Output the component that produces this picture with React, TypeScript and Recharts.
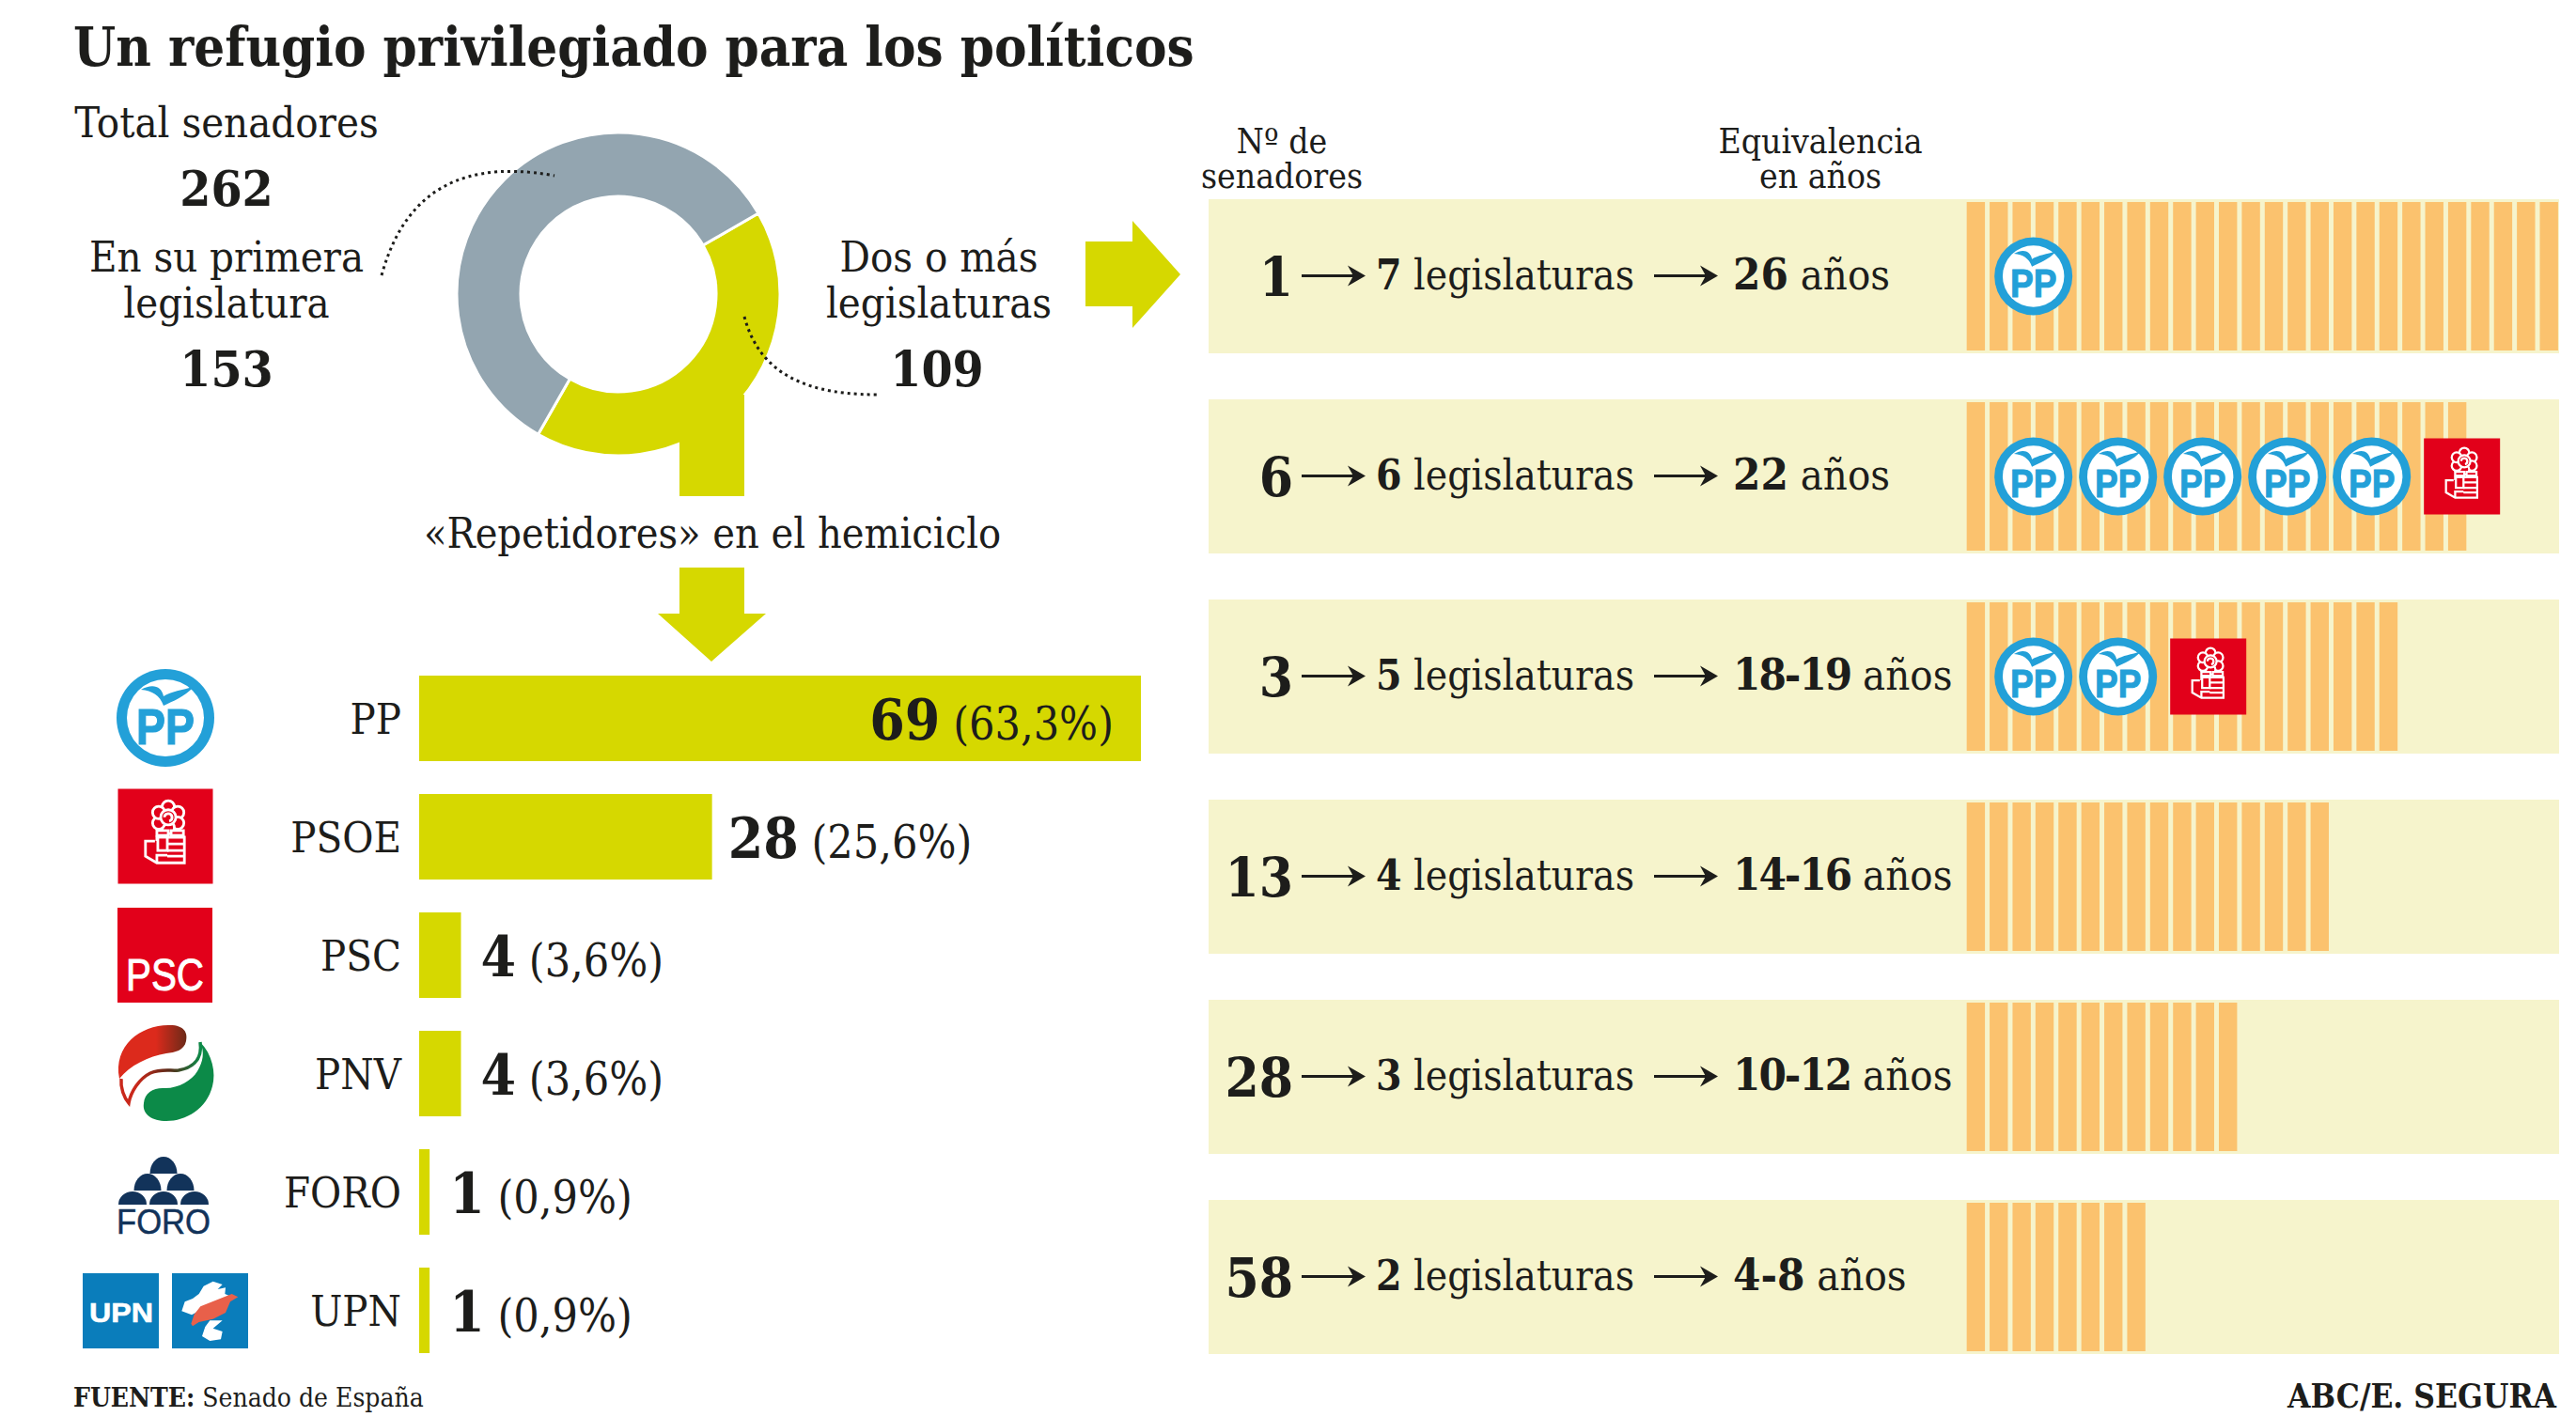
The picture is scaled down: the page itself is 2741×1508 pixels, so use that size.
import React from 'react';
import { BarChart, Bar, XAxis, YAxis, LabelList, PieChart, Pie, Cell } from 'recharts';

// donut
const donutNames = ['Dos o más legislaturas', 'En su primera legislatura'];
const donutValues = [109, 153];
const donutColors = ['#d6d800', '#93a5b0'];

// parties
const partyNames = ['PP', 'PSOE', 'PSC', 'PNV', 'FORO', 'UPN'];
const partySeats = [69, 28, 4, 4, 1, 1];
const partyPcts = ['63,3', '25,6', '3,6', '3,6', '0,9', '0,9'];

// legislatures table
const rowSenators = [1, 6, 3, 13, 28, 58];
const rowLegislatures = [7, 6, 5, 4, 3, 2];
const rowYearLabels = ['26', '22', '18-19', '14-16', '10-12', '4-8'];
const rowYears = [26, 22, 19, 16, 12, 8];
const rowLogos = [
  ['PP'],
  ['PP', 'PP', 'PP', 'PP', 'PP', 'PSOE'],
  ['PP', 'PP', 'PSOE'],
  [],
  [],
  [],
];

const partyData = partyNames.map((name, i) => ({ name, seats: partySeats[i], pct: partyPcts[i] }));
const rowData = rowSenators.map((senators, i) => ({
  senators,
  legislatures: rowLegislatures[i],
  label: rowYearLabels[i],
  years: rowYears[i],
  logos: rowLogos[i],
}));
const donutData = donutNames.map((name, i) => ({ name, value: donutValues[i] }));

const SERIF = '"DejaVu Serif Condensed", "DejaVu Serif", serif';
const SANS = '"Liberation Sans", Arial, sans-serif';
const INK = '#1d1d1b';
const YELLOW = '#d6d800';
const BLUE = '#23a0d8';
const RED = '#e2001a';
const NAVY = '#12335a';

function PPLogo({ cx, cy, r }: any) {
  return (
    <g transform={`translate(${cx},${cy}) scale(${r / 52})`}>
      <circle r={52} fill={BLUE} />
      <circle r={41} fill="#fff" />
      <path d="M-26,-30 C-14,-37 -4,-34 -2,-23 C6,-28 18,-30 30,-33 C20,-22 8,-18 -2,-13 C-6,-24 -14,-29 -26,-30Z" fill={BLUE} />
      <text x={0} y={28} textAnchor="middle" fontFamily={SANS} fontWeight="bold" fontSize={54} textLength={62} lengthAdjust="spacingAndGlyphs" stroke={BLUE} strokeWidth={1.2} fill={BLUE}>PP</text>
    </g>
  );
}

function PSOELogo({ cx, cy, size }: any) {
  const lobes = [[3, -31], [13, -25], [13, -14], [3, -9], [-7, -14], [-7, -25]];
  return (
    <g transform={`translate(${cx},${cy}) scale(${size / 100})`}>
      <rect x={-50} y={-50} width={100} height={100} fill={RED} />
      <g fill={RED} stroke="#fff" strokeWidth={2.8}>
        {lobes.map(([x, y], i) => (
          <circle key={i} cx={x} cy={y} r={6.5} />
        ))}
        <circle cx={3} cy={-20} r={8} />
        <path d="M-1,-20 A4,4 0 1 1 4,-16" fill="none" />
        <rect x={-9} y={-6} width={12} height={5} />
        <rect x={6} y={-6} width={13} height={5} />
        <path d="M-11,5 H-21 V21 L-9,28 H20 V1 H-9 V5" />
        <rect x={-8} y={1} width={10} height={14} />
        <path d="M2,8 H20 M2,15 H20 M2,21 H20 M-9,28 V20 H2" fill="none" />
      </g>
    </g>
  );
}

function PNVLogo({ cy }: any) {
  return (
    <g transform={`translate(176,${cy})`}>
      <defs>
        <linearGradient id="pnvRed" x1="0" y1="0" x2="1" y2="0">
          <stop offset="0.55" stopColor="#dc2a1c" />
          <stop offset="1" stopColor="#6b2a18" />
        </linearGradient>
        <linearGradient id="pnvGreen" x1="0" y1="0" x2="0.55" y2="0.55">
          <stop offset="0" stopColor="#3a2a18" />
          <stop offset="0.5" stopColor="#0c8a48" />
        </linearGradient>
        <linearGradient id="pnvLine" x1="0" y1="0" x2="1" y2="0">
          <stop offset="0.2" stopColor="#c9281b" />
          <stop offset="0.6" stopColor="#5a2a18" />
          <stop offset="1" stopColor="#0c8a48" />
        </linearGradient>
      </defs>
      <path d="M-49,6 C-56,-30 -25,-52 5,-51 C20,-51 24,-43 22,-34 C20,-24 10,-22 1,-21 C-18,-18 -38,-8 -49,6Z" fill="url(#pnvRed)" />
      <path d="M37,-33 C50,-20 54,0 50,14 C44,38 22,51 1,51 C-14,51 -25,44 -23,32 C-22,20 -12,15 0,16 C14,16 28,8 34,-2 C40,-12 42,-22 37,-33Z" fill="url(#pnvGreen)" />
      <path d="M-47,6 C-48,16 -44,26 -39,32 C-37,20 -28,6 -16,0 C-4,-5 6,-2 14,-3 C26,-5 40,-12 37,-33" fill="none" stroke="url(#pnvLine)" strokeWidth={3.5} />
    </g>
  );
}

function UPNLogo({ cy }: any) {
  return (
    <g>
      <rect x={88} y={cy - 39} width={81} height={80} fill="#0a7dbb" />
      <rect x={183} y={cy - 39} width={81} height={80} fill="#0a7dbb" />
      <text x={129} y={cy + 13} textAnchor="middle" fontFamily={SANS} fontWeight="bold" fontSize={30} textLength={68} lengthAdjust="spacingAndGlyphs" stroke="#fff" strokeWidth={0.6} fill="#fff">UPN</text>
      <g transform={`translate(80,${cy - 52}) scale(${1 / 3})`}>
        <path d="M440,65 L470,75 L455,90 L480,85 L478,105 L490,110 L372,172 L340,160 L350,130 L375,120 L395,105 L410,80Z" fill="#fff" />
        <path d="M430,190 L470,190 L440,215 L470,225 L465,250 L430,255 L405,240 L415,210Z" fill="#fff" />
        <path d="M370,200 L380,170 L400,145 L500,105 L520,115 L495,130 L480,165 L440,185 L395,195 L375,208Z" fill="#e8604a" />
      </g>
    </g>
  );
}

function PartyLogo({ name, cy }: any) {
  if (name === 'PP') return <PPLogo cx={176} cy={cy} r={52} />;
  if (name === 'PSOE') return <PSOELogo cx={176} cy={cy} size={101} />;
  if (name === 'PSC') {
    return (
      <g>
        <rect x={125} y={cy - 50} width={101} height={101} fill={RED} />
        <text x={175.5} y={cy + 38} textAnchor="middle" fontFamily={SANS} fontSize={49} textLength={83} lengthAdjust="spacingAndGlyphs" stroke="#fff" strokeWidth={1} fill="#fff">PSC</text>
      </g>
    );
  }
  if (name === 'PNV') return <PNVLogo cy={cy} />;
  if (name === 'FORO') {
    const domes = [
      [174, -19, 14.5, 18], [157, -1, 14.5, 18], [192, -1, 14.5, 18],
      [141, 14, 15, 14], [174, 14, 15, 14], [207, 14, 15, 14],
    ];
    return (
      <g fill={NAVY}>
        {domes.map(([x, dy, rx, ry], i) => (
          <path key={i} d={`M${x - rx},${cy + dy} A${rx},${ry} 0 0 1 ${x + rx},${cy + dy}Z`} />
        ))}
        <text x={174} y={cy + 45} textAnchor="middle" fontFamily={SANS} fontSize={36} textLength={100} lengthAdjust="spacingAndGlyphs" stroke={NAVY} strokeWidth={0.5}>FORO</text>
      </g>
    );
  }
  return <UPNLogo cy={cy} />;
}

function PartyTick({ y, payload }: any) {
  return (
    <g>
      <PartyLogo name={payload.value} cy={y} />
      <text x={427} y={y + 17} textAnchor="end" fontFamily={SERIF} fontSize={45} fill={INK}>{payload.value}</text>
    </g>
  );
}

function SeatsLabel({ x, y, width, height, index }: any) {
  const row = partyData[index];
  const inside = row.seats > 60;
  const cy = y + height / 2;
  return (
    <text
      x={inside ? x + width - 29 : x + width + (row.seats < 10 ? 21 : 17)}
      y={cy + 22}
      textAnchor={inside ? 'end' : 'start'}
      fontFamily={SERIF}
      fill={INK}
    >
      <tspan fontWeight="bold" fontSize={60}>{row.seats}</tspan>
      <tspan fontSize={48}>{` (${row.pct}%)`}</tspan>
    </text>
  );
}

function Arrow({ x1, x2, y }: any) {
  return (
    <g>
      <line x1={x1} x2={x2 - 8} y1={y} y2={y} stroke={INK} strokeWidth={3} />
      <path d={`M${x2},${y} L${x2 - 19},${y - 11} L${x2 - 13},${y} L${x2 - 19},${y + 11}Z`} fill={INK} />
    </g>
  );
}

function RowTick({ y, index }: any) {
  const row = rowData[index];
  return (
    <g fontFamily={SERIF} fill={INK}>
      <text x={90} y={y + 21} textAnchor="end" fontWeight="bold" fontSize={58}>{row.senators}</text>
      <Arrow x1={99} x2={167} y={y} />
      <text x={178} y={y + 14} fontSize={44}>
        <tspan fontWeight="bold">{row.legislatures}</tspan>
        <tspan>{' legislaturas'}</tspan>
      </text>
      <Arrow x1={474} x2={542} y={y} />
      <text x={558} y={y + 14} fontSize={45}>
        <tspan fontWeight="bold" fontSize={47} letterSpacing={row.label.length > 3 ? -2 : 0}>{row.label}</tspan>
        <tspan>{' años'}</tspan>
      </text>
    </g>
  );
}

function StripesShape({ x, y, width, height, payload }: any) {
  const n = payload.years;
  const step = width / n;
  const cy = y + height / 2;
  const stripes = [];
  for (let i = 0; i < n; i++) {
    stripes.push(<rect key={i} x={x + i * step} y={y + 3} width={step - 5} height={height - 6} fill="#fbc26e" />);
  }
  return (
    <g>
      {stripes}
      {payload.logos.map((logo: string, i: number) =>
        logo === 'PP' ? (
          <PPLogo key={i} cx={x + 71 + i * 90} cy={cy} r={41.5} />
        ) : (
          <PSOELogo key={i} cx={x + 77 + i * 90} cy={cy} size={81} />
        )
      )}
    </g>
  );
}

function Overlay() {
  return (
    <svg width={2741} height={1508} style={{ position: 'absolute', left: 0, top: 0, pointerEvents: 'none' }}>
      <g fill={YELLOW}>
        <rect x={723} y={420} width={69} height={108} />
        <path d="M723,604 H792 V653 H815 L757,704 L700,653 H723Z" />
        <path d="M1155,257 H1205 V235 L1256,292 L1205,349 V326 H1155Z" />
      </g>
      <g fill="none" stroke={INK} strokeWidth={3} strokeDasharray="3 4">
        <path d="M406,293 C425,225 470,165 590,187" />
        <path d="M792,337 C805,385 840,420 933,420" />
      </g>
      <g fontFamily={SERIF} fill={INK} textAnchor="middle">
        <text x={78} y={70} textAnchor="start" fontWeight="bold" fontSize={57.6}>Un refugio privilegiado para los políticos</text>

        <text x={241} y={146} fontSize={45}>Total senadores</text>
        <text x={241} y={219} fontWeight="bold" fontSize={53}>262</text>
        <text x={241} y={289} fontSize={45}>En su primera</text>
        <text x={241} y={338} fontSize={45}>legislatura</text>
        <text x={241} y={411} fontWeight="bold" fontSize={53}>153</text>

        <text x={999} y={289} fontSize={45}>Dos o más</text>
        <text x={999} y={338} fontSize={45}>legislaturas</text>
        <text x={997} y={411} fontWeight="bold" fontSize={53}>109</text>

        <text x={758} y={583} fontSize={44.6}>«Repetidores» en el hemiciclo</text>

        <text x={1364} y={163} fontSize={37}>Nº de</text>
        <text x={1364} y={200} fontSize={37}>senadores</text>
        <text x={1937} y={163} fontSize={37}>Equivalencia</text>
        <text x={1937} y={200} fontSize={37}>en años</text>

        <text x={78} y={1497} textAnchor="start" fontSize={28}>
          <tspan fontWeight="bold">FUENTE:</tspan>
          <tspan>{' Senado de España'}</tspan>
        </text>
        <text x={2720} y={1498} textAnchor="end" fontWeight="bold" fontSize={35}>ABC/E. SEGURA</text>
      </g>
    </svg>
  );
}

export default function App() {
  return (
    <div style={{ position: 'absolute', left: 0, top: 0, width: 2741, height: 1508, overflow: 'hidden', background: '#fff' }}>
      <div style={{ position: 'absolute', left: 458, top: 113 }}>
        <PieChart width={400} height={400} margin={{ top: 0, right: 0, bottom: 0, left: 0 }}>
          <Pie
            data={donutData}
            dataKey="value"
            cx={200}
            cy={200}
            innerRadius={104}
            outerRadius={172}
            startAngle={30}
            endAngle={-330}
            stroke="#fff"
            strokeWidth={3}
            isAnimationActive={false}
          >
            {donutData.map((entry, i) => (
              <Cell key={entry.name} fill={donutColors[i]} />
            ))}
          </Pie>
        </PieChart>
      </div>

      <div style={{ position: 'absolute', left: 0, top: 701 }}>
        <BarChart
          layout="vertical"
          width={1214}
          height={756}
          data={partyData}
          margin={{ top: 0, right: 0, bottom: 0, left: 0 }}
          style={{ overflow: 'visible' }}
        >
          <XAxis type="number" hide domain={[0, 69]} />
          <YAxis type="category" dataKey="name" width={446} axisLine={false} tickLine={false} tick={<PartyTick />} interval={0} />
          <Bar dataKey="seats" fill={YELLOW} barSize={91} isAnimationActive={false}>
            <LabelList dataKey="seats" content={<SeatsLabel />} />
          </Bar>
        </BarChart>
      </div>

      <div style={{ position: 'absolute', left: 1286, top: 187 }}>
        <BarChart
          layout="vertical"
          width={1437}
          height={1278}
          data={rowData}
          margin={{ top: 0, right: 0, bottom: 0, left: 0 }}
        >
          <XAxis type="number" hide domain={[-33.07, 25.84]} allowDataOverflow />
          <Bar
            dataKey="years"
            barSize={164}
            background={{ fill: '#f6f4cc' }}
            shape={<StripesShape />}
            isAnimationActive={false}
          />
          <YAxis type="category" dataKey="senators" mirror width={60} axisLine={false} tickLine={false} tick={<RowTick />} interval={0} />
        </BarChart>
      </div>

      <Overlay />
    </div>
  );
}
